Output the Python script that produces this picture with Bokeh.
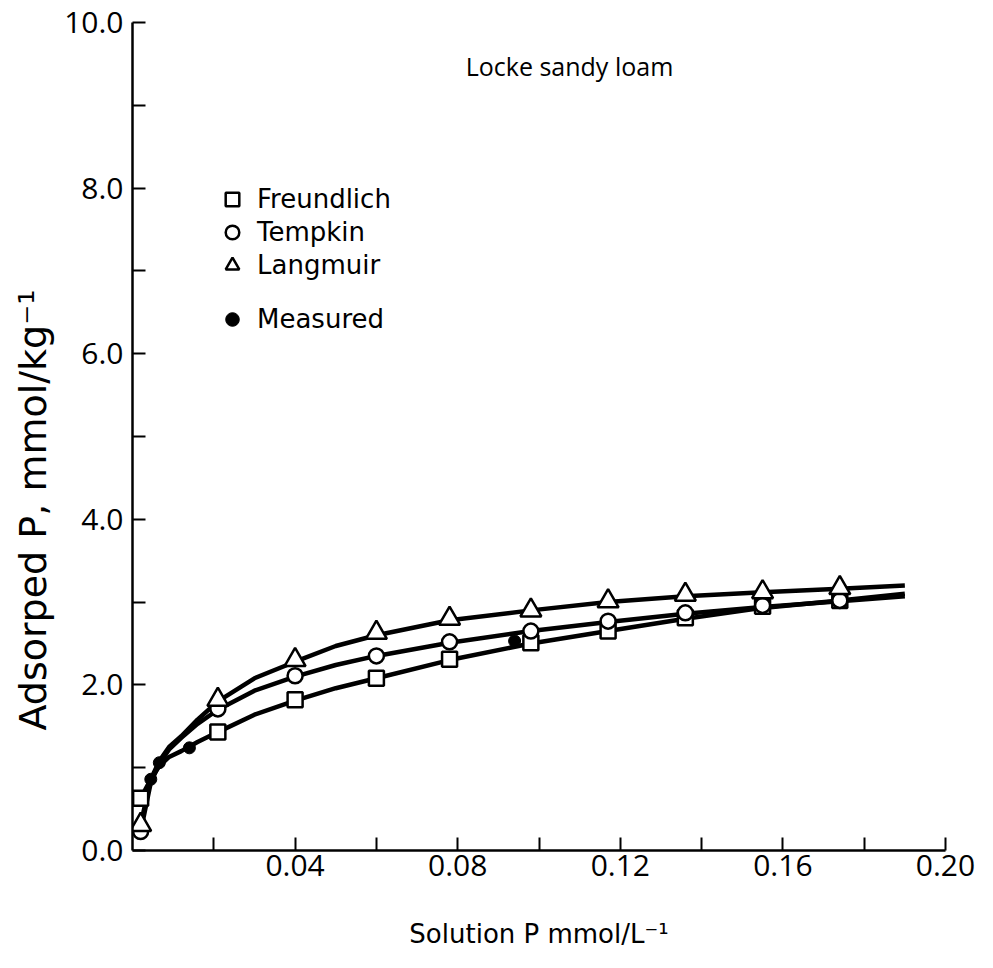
from bokeh.plotting import figure
from bokeh.models import FixedTicker, NumeralTickFormatter, Label, Legend, LegendItem, Title
from bokeh.embed import file_html
from bokeh.resources import INLINE

FONT = "Open Sans"
WIDE = "DejaVu Sans"

# Model points (markers)
marker_x = [0.002, 0.021, 0.040, 0.060, 0.078, 0.098, 0.117, 0.136, 0.155, 0.174]
freundlich_pts = [0.63, 1.43, 1.82, 2.08, 2.31, 2.51, 2.65, 2.81, 2.95, 3.02]
tempkin_pts = [0.23, 1.71, 2.11, 2.35, 2.52, 2.65, 2.77, 2.87, 2.96, 3.02]
langmuir_pts = [0.31, 1.82, 2.30, 2.63, 2.80, 2.90, 3.01, 3.09, 3.12, 3.17]

# Fitted curves
curve_x = [0.002, 0.0045, 0.0066, 0.009, 0.012, 0.016, 0.021, 0.030, 0.040, 0.050,
           0.060, 0.078, 0.098, 0.117, 0.136, 0.155, 0.174, 0.190]
langmuir_curve = [0.31, 0.86, 1.08, 1.25, 1.38, 1.58, 1.80, 2.08, 2.28, 2.47,
                  2.60, 2.78, 2.90, 3.00, 3.07, 3.12, 3.16, 3.20]
tempkin_curve = [0.23, 0.82, 1.05, 1.22, 1.36, 1.53, 1.70, 1.93, 2.10, 2.24,
                 2.35, 2.51, 2.65, 2.76, 2.86, 2.94, 3.01, 3.07]
freundlich_curve = [0.63, 0.86, 1.02, 1.13, 1.20, 1.31, 1.43, 1.64, 1.81, 1.96,
                    2.08, 2.30, 2.50, 2.65, 2.80, 2.93, 3.02, 3.10]

# Measured points
measured_x = [0.0045, 0.0066, 0.014, 0.094]
measured_y = [0.86, 1.06, 1.24, 2.53]

legend_labels = ["Freundlich", "Tempkin", "Langmuir", "Measured"]

x_major = [0.04, 0.08, 0.12, 0.16, 0.20]
x_minor = [0.02, 0.06, 0.10, 0.14, 0.18]
y_major = [0, 2, 4, 6, 8, 10]
y_minor = [1, 3, 5, 7, 9]

p = figure(width=977, height=952, x_range=(0, 0.20), y_range=(0, 10),
           output_backend="svg", toolbar_location=None,
           min_border_left=132, min_border_right=32, min_border_top=22, min_border_bottom=102)
p.outline_line_color = None
p.grid.visible = False
p.background_fill_color = "white"

for ax in (p.xaxis[0], p.yaxis[0]):
    ax.axis_line_width = 2.5
    ax.axis_line_color = "black"
    ax.major_tick_in = 13
    ax.major_tick_out = 0
    ax.minor_tick_in = 13
    ax.minor_tick_out = 0
    ax.major_tick_line_width = 2
    ax.minor_tick_line_width = 2
    ax.major_tick_line_color = "black"
    ax.minor_tick_line_color = "black"
    ax.major_label_text_font = FONT
    ax.major_label_text_font_size = "30px"
    ax.major_label_text_color = "black"
    ax.axis_label_text_font_style = "normal"
    ax.axis_label_text_color = "black"

p.xaxis.ticker = FixedTicker(ticks=x_major, minor_ticks=x_minor)
p.xaxis.formatter = NumeralTickFormatter(format="0.00")
p.xaxis.major_label_standoff = 4
p.xaxis.axis_label = "Solution P mmol/L\u207b\u00b9"
p.xaxis.axis_label_text_font = WIDE
p.xaxis.axis_label_text_font_size = "26px"
p.xaxis.axis_label_standoff = 40

p.yaxis.ticker = FixedTicker(ticks=y_major, minor_ticks=y_minor)
p.yaxis.formatter = NumeralTickFormatter(format="0.0")
p.yaxis.major_label_standoff = 9

# y axis title as a side title, started at a set distance above the x axis
p.add_layout(Title(text="Adsorped P, mmol/kg\u207b\u00b9", align="left", offset=120,
                   standoff=14, text_font=WIDE, text_font_size="38px",
                   text_font_style="normal", text_color="black"), "left")

# curves
for yy in (langmuir_curve, tempkin_curve, freundlich_curve):
    p.line(curve_x, yy, line_color="black", line_width=4.5)

r_sq = p.scatter(marker_x, freundlich_pts, marker="square", size=15,
                 fill_color="white", line_color="black", line_width=2.5)
r_ci = p.scatter(marker_x, tempkin_pts, marker="circle", size=15,
                 fill_color="white", line_color="black", line_width=2.5)
r_tr = p.scatter(marker_x, langmuir_pts, marker="triangle", size=21,
                 fill_color="white", line_color="black", line_width=2.5)
r_me = p.scatter(measured_x, measured_y, marker="circle", size=12,
                 fill_color="black", line_color="black", line_width=1)

common = dict(padding=0, margin=0, spacing=0, glyph_width=34, glyph_height=34,
              label_height=40, label_standoff=8, label_text_font=WIDE,
              label_text_font_size="26px", label_text_color="black",
              background_fill_alpha=0, border_line_color=None)
legend_y = [631, 598, 565, 511]
for lab, rend, ly in zip(legend_labels, [r_sq, r_ci, r_tr, r_me], legend_y):
    p.add_layout(Legend(items=[LegendItem(label=lab, renderers=[rend])],
                        location=(83, ly), **common))

p.add_layout(Label(x=0.1075, y=9.48, text="Locke sandy loam", text_font=FONT,
                   text_font_size="25px", text_color="black",
                   text_align="center", text_baseline="middle"))

open("out.html", "w").write(file_html(p, INLINE))
